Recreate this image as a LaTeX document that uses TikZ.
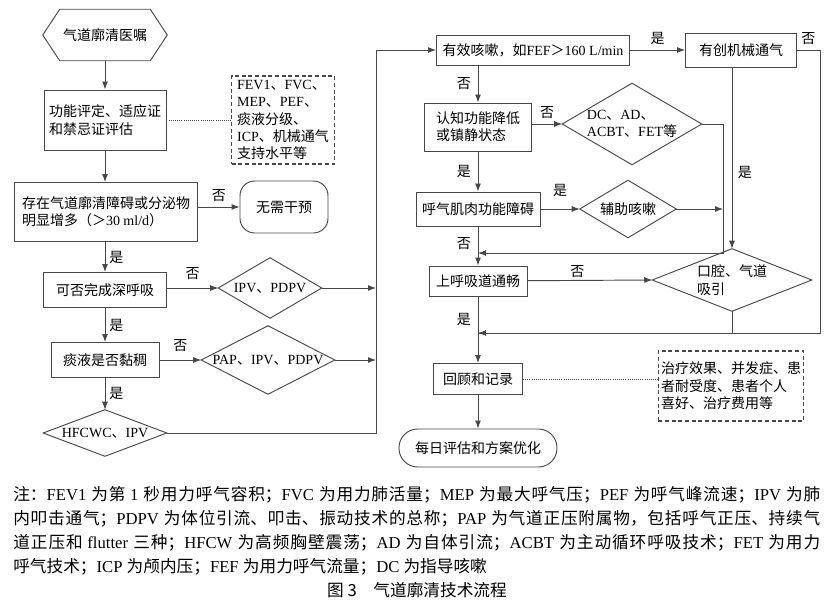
\documentclass[tikz,border=0pt]{standalone}
\usepackage{fontspec}
\setmainfont{Liberation Serif}
\newfontfamily\latinrm{Liberation Serif}
\newfontfamily\cjk{Noto Sans CJK SC}
\usetikzlibrary{arrows.meta,positioning}
\definecolor{linegray}{RGB}{72,72,72}

% switch to the CJK font for Chinese characters
\XeTeXinterchartokenstate=1
\newXeTeXintercharclass\cjkclass
\newcount\cjkcount
\newcommand{\cjkrange}[2]{\cjkcount=#1\relax
  \loop\XeTeXcharclass\cjkcount=\cjkclass
  \ifnum\cjkcount<#2\advance\cjkcount by 1\repeat}
\cjkrange{"3000}{"303F}
\cjkrange{"4E00}{"9FFF}
\cjkrange{"FF00}{"FFEF}
\XeTeXinterchartoks 0 \cjkclass = {\cjk}
\XeTeXinterchartoks 4095 \cjkclass = {\cjk}
\XeTeXinterchartoks \cjkclass 0 = {\latinrm}
\XeTeXinterchartoks 4095 0 = {\latinrm}
\XeTeXlinebreaklocale "zh"
\XeTeXlinebreakskip=0pt plus 1.5pt

\begin{document}
\begin{tikzpicture}[x=0.75pt, y=-0.75pt,
    font=\fontsize{10.5pt}{13pt}\selectfont,
    sz/.style 2 args={minimum width=#1*0.75pt, minimum height=#2*0.75pt},
    wire/.style={draw=linegray, line width=0.7pt},
    arrow/.style={wire, -{Latex[length=6pt,width=4.5pt]}},
    box/.style={rectangle, wire, align=left, inner sep=2pt},
    term/.style={rectangle, wire, rounded corners=#1, align=center},
    decision/.style={rectangle, align=left, inner sep=0pt},
    notebox/.style={rectangle, draw=linegray, line width=0.9pt,
                    dash pattern=on 3pt off 2pt, align=left, inner sep=2pt},
    link/.style={draw=linegray, line width=0.6pt, densely dotted},
    lab/.style={inner sep=1pt}
]
\fill[white] (0,0) rectangle (834,602);
\useasboundingbox (0,0) rectangle (834,602);

% Left column
\node[sz={124}{51}] (order) at (105,35) {气道廓清医嘱};
\node[box, sz={122}{60}] (assess) at (105,120) {功能评定、适应证\\和禁忌证评估};
\node[notebox, sz={103}{88}] (assessnote) at (283,120) {FEV1、FVC、\\MEP、PEF、\\痰液分级、\\ICP、机械通气\\支持水平等};
\node[box, sz={183}{59}] (exist) at (106,212) {存在气道廓清障碍或分泌物\\明显增多（＞30 ml/d）};
\node[term=11pt, sz={88}{52}] (nointv) at (284,207) {无需干预};
\node[box, sz={123}{35}] (deep) at (105,290) {可否完成深呼吸};
\node[decision, sz={103}{60}] (ipvA) at (270,288) {IPV、PDPV};
\node[box, sz={108}{35}] (sputum) at (105,360) {痰液是否黏稠};
\node[decision, sz={133}{68}] (pap) at (268,360) {PAP、IPV、PDPV};
\node[decision, sz={123}{46}] (hfcwc) at (105,433) {HFCWC、IPV};
\coordinate (busT) at (376,50);

% Right column
\node[box, sz={193}{30}] (effcough) at (533,50) {有效咳嗽，如FEF＞160 L/min};
\node[box, sz={111}{34}] (invmv) at (741,50) {有创机械通气};
\node[box, sz={107}{48}] (cog) at (478,127) {认知功能降低\\或镇静状态};
\node[decision, sz={139}{81}] (dcad) at (632,124) {DC、AD、\\ACBT、FET等};
\node[box, sz={124}{34}] (expmus) at (478,209) {呼气肌肉功能障碍};
\node[decision, sz={96}{57}] (assist) at (628,209) {辅助咳嗽};
\node[box, sz={98}{30}] (airway) at (478,281) {上呼吸道通畅};
\node[decision, sz={159}{62}] (suction) at (732,280) {口腔、气道\\吸引};
\node[box, sz={89}{31}] (review) at (478,379) {回顾和记录};
\node[notebox, sz={145}{70}] (reviewnote) at (731,386) {治疗效果、并发症、患\\者耐受度、患者个人\\喜好、治疗费用等};
\node[term=14pt, sz={158}{38}] (daily) at (478,448) {每日评估和方案优化};
\coordinate (rbusA) at (723,124);
\coordinate (joinA) at (478,253);
\coordinate (rbusB) at (820,50);
\coordinate (joinB) at (478,333);

% Shapes drawn round the nodes
\draw[wire] (order.west) -- ([xshift=12.75pt]order.north west) -- ([xshift=-12.75pt]order.north east)
  -- (order.east) -- ([xshift=-12.75pt]order.south east) -- ([xshift=12.75pt]order.south west) -- cycle;
\foreach \d in {ipvA,pap,hfcwc,dcad,assist,suction}
  \draw[wire] (\d.north) -- (\d.east) -- (\d.south) -- (\d.west) -- cycle;

% Arrows, left
\draw[arrow] (order) -- (assess);
\draw[link] (assess) -- (assessnote);
\draw[arrow] (assess) -- (assess |- exist.north);
\draw[arrow] (exist.east |- nointv) -- node[lab, above=3pt] (noA) {否} (nointv.west);
\draw[arrow] (deep.north |- exist.south) -- node[lab, right=2pt] (yesA) {是} (deep.north);
\draw[arrow] (deep.east |- ipvA) -- node[lab, above=5pt] (noB) {否} (ipvA.west);
\draw[arrow] (ipvA.east) -- (ipvA.east -| busT);
\draw[arrow] (deep) -- node[lab, right=2pt] (yesB) {是} (sputum);
\draw[arrow] (sputum) -- node[lab, above=5pt] (noC) {否} (pap);
\draw[arrow] (pap.east) -- (pap.east -| busT);
\draw[arrow] (sputum) -- node[lab, right=2pt] (yesC) {是} (hfcwc);
\draw[arrow] (hfcwc.east) -| (busT) -- (effcough.west);

% Arrows, right
\draw[arrow] (effcough) -- node[lab, above=3pt] (yesD) {是} (invmv);
\draw[wire] (invmv.east) -- node[lab, above=3pt] (noD) {否} (rbusB) |- (joinB);
\draw[arrow] (rbusB |- joinB) -- (joinB);
\draw[arrow] (suction.north |- invmv.south) -- node[lab, right=3pt, pos=0.58] (yesE) {是} (suction.north);
\draw[arrow] (cog.north |- effcough.south) -- node[lab, left=4pt] (noE) {否} (cog.north);
\draw[arrow] (cog.east |- dcad) -- node[lab, above=3pt] (noF) {否} (dcad.west);
\draw[arrow] (dcad.east) -- (rbusA) |- (joinA);
\draw[arrow] (cog) -- node[lab, left=4pt] (yesF) {是} (expmus);
\draw[arrow] (expmus) -- node[lab, above=8pt] (yesG) {是} (assist);
\draw[arrow] (assist.east) -- (assist.east -| rbusA);
\draw[arrow] (expmus) -- node[lab, left=4pt, pos=0.45] (noG) {否} (airway);
\draw[arrow] (airway) -- node[lab, above=1pt, pos=0.4] (noH) {否} (suction.west);
\draw[wire] (suction.south) -- (suction.south |- joinB);
\draw[arrow] (airway) -- node[lab, left=4pt, pos=0.35] (yesH) {是} (review);
\draw[link] (review.east) -- (review.east -| reviewnote.west);
\draw[arrow] (review) -- (daily);

% Notes and caption
\node[anchor=north west, inner sep=0pt, text width=605.25pt, align=justify,
      font=\fontsize{12.5pt}{18pt}\selectfont] (notes) at (13,486)
  {注：FEV1 为第 1 秒用力呼气容积；FVC 为用力肺活量；MEP 为最大呼气压；PEF 为呼气峰流速；IPV 为肺\linebreak
   内叩击通气；PDPV 为体位引流、叩击、振动技术的总称；PAP 为气道正压附属物，包括呼气正压、持续气\linebreak
   道正压和 flutter 三种；HFCW 为高频胸壁震荡；AD 为自体引流；ACBT 为主动循环呼吸技术；FET 为用力\linebreak
   呼气技术；ICP 为颅内压；FEF 为用力呼气流量；DC 为指导咳嗽};
\node[font={\cjk\fontsize{12.5pt}{15pt}\selectfont\XeTeXinterchartokenstate=0 }] (caption) at (417,590)
  {图 3\quad 气道廓清技术流程};
\end{tikzpicture}
\end{document}
